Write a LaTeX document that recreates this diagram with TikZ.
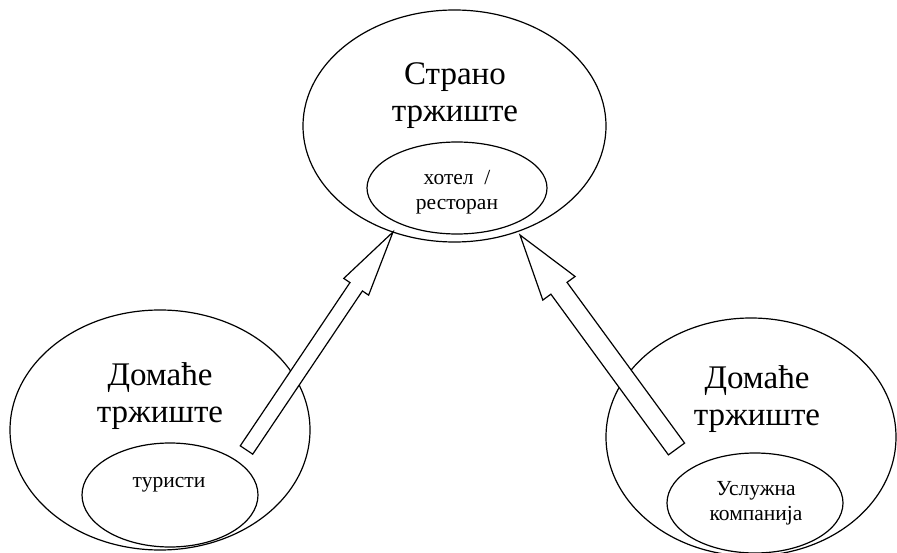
\documentclass[tikz,border=0pt]{standalone}
\usepackage{fontspec}
\setmainfont{Liberation Serif}
\usetikzlibrary{shapes.geometric,calc}

\tikzset{
  market/.style={ellipse, draw, fill=white, line width=1.2pt, inner sep=0pt},
  bigtext/.style={font=\fontsize{33}{37}\selectfont, align=center, inner sep=0pt},
  smalltext/.style={font=\fontsize{21.5}{25}\selectfont, align=center, inner sep=0pt},
  blockarrow/.style={draw, fill=white, line width=1.2pt, line join=miter},
}

% hollow block arrow: #1 tail, #2 tip, #3 shaft half-width,
% #4 head half-width, #5 head length
\newcommand\hollowarrow[5]{%
  \coordinate (#1-neck) at ($(#2)!#5!(#1)$);
  \draw[blockarrow]
    ($(#1)!#3!90:(#2)$) -- ($(#1-neck)!#3!90:(#2)$) --
    ($(#1-neck)!#4!90:(#2)$) -- (#2) --
    ($(#1-neck)!#4!-90:(#2)$) -- ($(#1-neck)!#3!-90:(#2)$) --
    ($(#1)!#3!-90:(#2)$) -- cycle;
}

\begin{document}
\begin{tikzpicture}[x=1pt, y=-1pt]
  \useasboundingbox (0,0) rectangle (897,553);

  % foreign market with the hotel / restaurant inside
  \node[market, minimum width=303pt, minimum height=232pt] (foreign) at (454.5,126) {};
  \node[bigtext] (foreignlabel) at (455,96) {Страно\\тржиште};
  \node[market, minimum width=180pt, minimum height=92pt] (hotel) at (457,188) {};
  \node[smalltext] (hotellabel) at (457,192.5) {хотел\ \ /\\ресторан};

  % domestic market with the tourists
  \node[market, minimum width=300pt, minimum height=240pt] (domleft) at (160,430) {};
  \node[bigtext] (domleftlabel) at (160,396) {Домаће\\тржиште};
  \node[market, minimum width=176pt, minimum height=104pt] (tourists) at (170,495) {};
  \node[smalltext, anchor=base] (touristslabel) at (169,487) {туристи};

  % domestic market with the service company
  \node[market, minimum width=290pt, minimum height=238pt] (domright) at (751,437) {};
  \node[bigtext] (domrightlabel) at (757,399) {Домаће\\тржиште};
  \node[market, minimum width=176pt, minimum height=100pt] (company) at (755,503) {};
  \node[smalltext] (companylabel) at (756,503) {Услужна\\компанија};

  % flows towards the foreign market
  \coordinate (lefttail) at (246.5,450);
  \coordinate (lefttip) at (393,232);
  \coordinate (righttail) at (676.5,449);
  \coordinate (righttip) at (520,235);
  \hollowarrow{lefttail}{lefttip}{7.5pt}{15pt}{66pt}
  \hollowarrow{righttail}{righttip}{10pt}{20pt}{66pt}
\end{tikzpicture}
\end{document}
